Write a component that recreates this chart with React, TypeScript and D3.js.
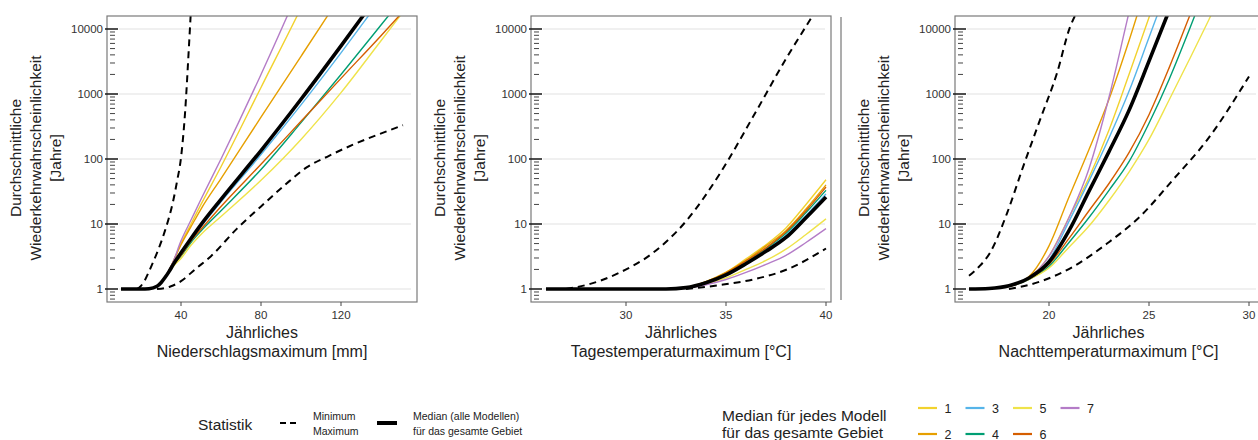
import React from "react";
import * as d3 from "d3";

// model ids and colours (legend order 1..7)
const modelIds = ["1", "2", "3", "4", "5", "6", "7"];
const modelColors = ["#F2D22E", "#E69F00", "#56B4E9", "#009E73", "#EFE34A", "#D55E00", "#B47CC7"];

// --- Panel 1: Niederschlagsmaximum [mm]
const precipX = [10, 20, 24, 28, 30, 32, 34, 36, 40, 45, 50, 60, 80, 100, 120, 140, 152];
const precipMedian = [1, 1, 1.01, 1.1, 1.25, 1.5, 1.85, 2.35, 3.6, 6.0, 9.8, 24, 135, 830, 5500, 38000, 1.2e5];
const precipModels = [
  [1, 1, 1.01, 1.1, 1.25, 1.5, 1.93, 2.6, 5.0, 10, 20, 76, 1260, 21000, 4e5, 8e6, 5e7],
  [1, 1, 1.01, 1.1, 1.25, 1.5, 1.92, 2.6, 4.8, 9.1, 17, 50, 440, 3800, 33000, 2.9e5, 1e6],
  [1, 1, 1.01, 1.1, 1.25, 1.5, 1.85, 2.35, 3.5, 5.75, 9.1, 22, 117, 680, 4300, 29000, 90000],
  [1, 1, 1.01, 1.1, 1.25, 1.5, 1.82, 2.25, 3.2, 5.2, 7.8, 16, 69, 363, 2000, 11500, 33000],
  [1, 1, 1.01, 1.1, 1.25, 1.5, 1.8, 2.2, 2.95, 4.7, 6.9, 13, 47, 200, 1050, 6600, 20000],
  [1, 1, 1.01, 1.1, 1.25, 1.5, 1.83, 2.3, 3.3, 5.5, 8.3, 18.6, 83, 380, 1740, 7900, 20000],
  [1, 1, 1.01, 1.1, 1.25, 1.5, 1.95, 2.6, 5.5, 11.5, 24, 100, 2000, 48000, 1.3e6, 3.2e7, 2.5e8],
];
const precipMinX = [18, 20, 22, 24, 26, 28, 30, 32, 34, 36, 38, 40, 42, 44, 45.5];
const precipMin = [1, 1.12, 1.38, 1.86, 2.57, 3.6, 5.2, 7.9, 12.6, 22, 45, 105, 500, 5600, 40000];
const precipMaxX = [28, 35, 40, 47, 55, 68, 80, 92, 103, 114, 126, 138, 151];
const precipMax = [1, 1.1, 1.32, 2, 3.2, 8.5, 18.6, 40, 75, 112, 166, 234, 331];

// --- Panel 2: Tagestemperaturmaximum [°C]
const dayX = [26, 28, 30, 32, 33, 34, 35, 36, 37, 38, 39, 40];
const dayMedian = [1, 1, 1, 1, 1.05, 1.25, 1.65, 2.45, 3.8, 6.2, 12.5, 26];
const dayModels = [
  [1, 1, 1, 1, 1.06, 1.3, 1.8, 2.9, 4.8, 8.7, 20, 48],
  [1, 1, 1, 1, 1.06, 1.3, 1.8, 2.75, 4.6, 7.9, 17, 40],
  [1, 1, 1, 1, 1.05, 1.26, 1.68, 2.5, 4.0, 6.7, 13.5, 29],
  [1, 1, 1, 1, 1.05, 1.27, 1.72, 2.6, 4.2, 7.2, 15, 33],
  [1, 1, 1, 1, 1.04, 1.2, 1.48, 2.0, 2.75, 4.1, 6.9, 12],
  [1, 1, 1, 1, 1.05, 1.28, 1.75, 2.7, 4.3, 7.6, 16, 37],
  [1, 1, 1, 1, 1.03, 1.16, 1.4, 1.8, 2.4, 3.3, 5.2, 8.5],
];
const dayMinX = [27, 28, 29.7, 31.35, 33.05, 34.7, 36.35, 38.05, 39.3, 39.6];
const dayMin = [1, 1.15, 1.8, 3.6, 11.5, 60, 445, 3700, 15500, 22000];
const dayMaxX = [33, 34.7, 36.35, 38.05, 40];
const dayMax = [1, 1.15, 1.4, 2.0, 4.2];

// --- Panel 3: Nachttemperaturmaximum [°C]
const nightX = [16, 17, 18, 19, 20, 21, 22, 23, 24, 25, 26, 27, 28, 29];
const nightMedian = [1, 1.02, 1.12, 1.48, 2.6, 7.9, 32, 130, 560, 3200, 19000, 1.2e5, 7e5, 4e6];
const nightModels = [
  [1, 1.02, 1.12, 1.48, 3.2, 12.6, 52, 280, 2000, 15000, 1.1e5, 8e5, 6e6, 4e7],
  [1, 1.02, 1.12, 1.55, 4.6, 26, 140, 830, 6600, 63000, 6e5, 6e6, 6e7, 6e8],
  [1, 1.02, 1.12, 1.48, 2.8, 11, 46, 210, 1100, 7400, 50000, 3.5e5, 2.5e6, 1.8e7],
  [1, 1.02, 1.1, 1.41, 2.24, 5.2, 12.6, 33, 91, 355, 1660, 9500, 60000, 3.8e5],
  [1, 1.02, 1.1, 1.41, 2.1, 4.4, 9.3, 23, 63, 200, 800, 3300, 14000, 63000],
  [1, 1.02, 1.1, 1.45, 2.4, 6, 16, 42, 125, 480, 2500, 15000, 90000, 5.5e5],
  [1, 1.02, 1.12, 1.48, 3.2, 12.6, 71, 890, 18000, 3.5e5, 7e6, 1.4e8, 3e9, 6e10],
];
const nightMinX = [16, 16.5, 17.05, 17.9, 18.7, 19.55, 20.4, 21.05, 21.3];
const nightMin = [1.6, 2.2, 3.6, 14.6, 75, 400, 2100, 10700, 16000];
const nightMaxX = [18, 19.55, 21.2, 22.9, 24.55, 26.2, 27.9, 30];
const nightMax = [1, 1.3, 2.2, 5, 13, 48, 195, 1860];

const yTicks = [1, 10, 100, 1000, 10000];
const yLabelLines = ["Durchschnittliche", "Wiederkehrwahrscheinlichkeit", "[Jahre]"];

const FONT = "'Liberation Sans', Arial, Helvetica, sans-serif";
const TOP = 16;
const BOTTOM = 302;

const panels = [
  {
    key: "p1", left: 107, right: 417, domain: [3, 158], ticks: [40, 80, 120],
    title: "Niederschlagsmaximum [mm]",
    x: precipX, median: precipMedian, models: precipModels,
    minX: precipMinX, min: precipMin, maxX: precipMaxX, max: precipMax,
  },
  {
    key: "p2", left: 531, right: 831, domain: [25.25, 40.25], ticks: [30, 35, 40],
    title: "Tagestemperaturmaximum [°C]",
    x: dayX, median: dayMedian, models: dayModels,
    minX: dayMinX, min: dayMin, maxX: dayMaxX, max: dayMax,
  },
  {
    key: "p3", left: 955, right: 1262, domain: [15.3, 30.65], ticks: [20, 25, 30],
    title: "Nachttemperaturmaximum [°C]",
    x: nightX, median: nightMedian, models: nightModels,
    minX: nightMinX, min: nightMin, maxX: nightMaxX, max: nightMax,
  },
];

const yScale = d3.scaleLog().domain([Math.pow(10, -0.2), Math.pow(10, 4.2)]).range([BOTTOM, TOP]);

const minorTicks: number[] = [];
[0.1, 1, 10, 100, 1000, 10000].forEach((d) => {
  for (let k = 2; k <= 9; k++) {
    const v = k * d;
    const [a, b] = yScale.domain();
    if (v >= a && v <= b) minorTicks.push(v);
  }
});

function Panel({ p }: { p: any }) {
  const x = d3.scaleLinear().domain(p.domain).range([p.left, p.right]);
  const line = d3
    .line<[number, number]>()
    .x((d) => x(d[0]))
    .y((d) => yScale(d[1]))
    .curve(d3.curveMonotoneX);
  const pts = (xs: number[], ys: number[]) => xs.map((v, i) => [v, ys[i]] as [number, number]);
  const cx = (p.left + p.right) / 2;
  const cy = (TOP + BOTTOM) / 2;
  const clipId = "clip-" + p.key;

  return (
    <g>
      <defs>
        <clipPath id={clipId}>
          <rect x={p.left} y={TOP} width={p.right - p.left} height={BOTTOM - TOP} />
        </clipPath>
      </defs>
      {yTicks.map((t) => (
        <line key={"g" + t} x1={p.left + 12} x2={p.right - 6} y1={yScale(t)} y2={yScale(t)} stroke="#ebebeb" strokeWidth={1.4} />
      ))}
      <g clipPath={`url(#${clipId})`} fill="none">
        {p.models.map((m: number[], i: number) => (
          <path key={i} d={line(pts(p.x, m)) || ""} stroke={modelColors[i]} strokeWidth={1.4} />
        ))}
        <path d={line(pts(p.x, p.median)) || ""} stroke="#000" strokeWidth={3.6} />
        <path d={line(pts(p.minX, p.min)) || ""} stroke="#000" strokeWidth={2} strokeDasharray="7,5" />
        <path d={line(pts(p.maxX, p.max)) || ""} stroke="#000" strokeWidth={2} strokeDasharray="7,5" />
      </g>
      <rect x={p.left} y={TOP} width={p.right - p.left} height={BOTTOM - TOP} fill="none" stroke="#7a7a7a" strokeWidth={1.2} />
      {/* y axis */}
      {minorTicks.map((t) => (
        <line key={"m" + t} x1={p.left + 3} x2={p.left + 8} y1={yScale(t)} y2={yScale(t)} stroke="#444" strokeWidth={1} />
      ))}
      {yTicks.map((t) => (
        <g key={"y" + t}>
          <line x1={p.left - 2} x2={p.left + 11} y1={yScale(t)} y2={yScale(t)} stroke="#222" strokeWidth={1.6} />
          <text x={p.left - 4} y={yScale(t)} dy="0.35em" textAnchor="end" fontSize={11.5} fill="#333">
            {t}
          </text>
        </g>
      ))}
      {/* x axis */}
      {p.ticks.map((t: number) => (
        <g key={"x" + t}>
          <line x1={x(t)} x2={x(t)} y1={BOTTOM} y2={BOTTOM + 4} stroke="#444" strokeWidth={1} />
          <text x={x(t)} y={319} textAnchor="middle" fontSize={11.5} fill="#333">
            {t}
          </text>
        </g>
      ))}
      <text x={cx} y={338} textAnchor="middle" fontSize={16} fill="#222">
        Jährliches
      </text>
      <text x={cx} y={357} textAnchor="middle" fontSize={16} fill="#222">
        {p.title}
      </text>
      {yLabelLines.map((s, i) => (
        <text
          key={s}
          transform={`translate(${p.left - 92 + i * 20},${cy - 1}) rotate(-90)`}
          textAnchor="middle"
          dominantBaseline="central"
          fontSize={15.5}
          fill="#222"
        >
          {s}
        </text>
      ))}
    </g>
  );
}

function Legend() {
  const row1 = [0, 2, 4, 6];
  const row2 = [1, 3, 5];
  const item = (i: number, col: number, y: number) => {
    const x0 = 918 + col * 47.5;
    return (
      <g key={"l" + i}>
        <line x1={x0} x2={x0 + 19} y1={y} y2={y} stroke={modelColors[i]} strokeWidth={2.2} />
        <text x={x0 + 30} y={y} dy="0.36em" textAnchor="middle" fontSize={12.5} fill="#222">
          {modelIds[i]}
        </text>
      </g>
    );
  };
  return (
    <g>
      <text x={198} y={430} fontSize={15.5} fill="#222">Statistik</text>
      <line x1={280} x2={298} y1={423} y2={423} stroke="#000" strokeWidth={2} strokeDasharray="6,4" />
      <text x={313} y={420} fontSize={10.5} fill="#222">Minimum</text>
      <text x={313} y={435} fontSize={10.5} fill="#222">Maximum</text>
      <line x1={377} x2={397} y1={423} y2={423} stroke="#000" strokeWidth={4} />
      <text x={413} y={420} fontSize={10.5} fill="#222">Median (alle Modellen)</text>
      <text x={413} y={435} fontSize={10.5} fill="#222">für das gesamte Gebiet</text>

      <text x={722} y={421} fontSize={15.5} fill="#222">Median für jedes Modell</text>
      <text x={722} y={438} fontSize={15.5} fill="#222">für das gesamte Gebiet</text>
      {row1.map((i, c) => item(i, c, 408))}
      {row2.map((i, c) => item(i, c, 434))}
    </g>
  );
}

export default function App() {
  return (
    <svg
      width={1258}
      height={440}
      style={{ position: "absolute", left: 0, top: 0, background: "#fff" }}
      fontFamily={FONT}
    >
      <rect width={1258} height={440} fill="#fff" />
      {panels.map((p) => (
        <Panel key={p.key} p={p} />
      ))}
      {/* thin separator seen left of the third panel */}
      <line x1={841} x2={841} y1={17} y2={300} stroke="#8a8a8a" strokeWidth={1.4} />
      <Legend />
    </svg>
  );
}
